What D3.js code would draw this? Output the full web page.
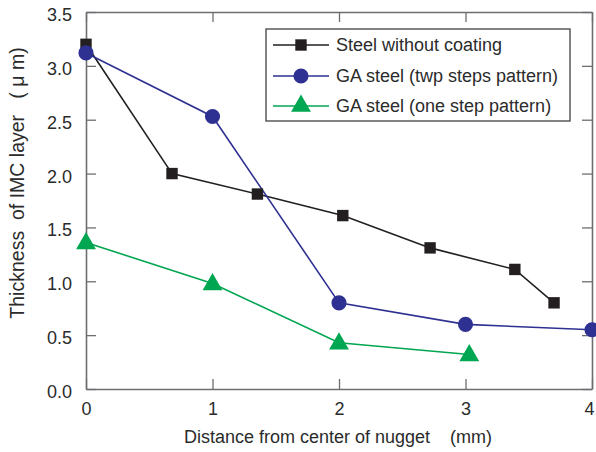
<!DOCTYPE html>
<html>
<head>
<meta charset="utf-8">
<script src="https://cdn.jsdelivr.net/npm/d3@7"></script>
<style>
  html, body { margin: 0; padding: 0; background: #fff; }
  svg { display: block; font-family: "Liberation Sans", Arial, sans-serif; }
  text { white-space: pre; }
</style>
</head>
<body>
<svg id="chart" width="596" height="452"></svg>
<script>
// Series values: distance from nugget centre (mm) vs IMC layer thickness (µm)
const steelX = [0, 0.68, 1.355, 2.03, 2.72, 3.39, 3.70];
const steelY = [3.20, 2.00, 1.81, 1.61, 1.31, 1.11, 0.80];

const twoStepX = [0, 1.0, 2.0, 3.0, 4.0];
const twoStepY = [3.12, 2.53, 0.80, 0.60, 0.55];

const oneStepX = [0, 1.0, 2.0, 3.03];
const oneStepY = [1.36, 0.98, 0.43, 0.32];

const seriesNames = [
  "Steel without coating",
  "GA steel (twp steps pattern)",
  "GA steel (one step pattern)"
];

const xTicks = [0, 1, 2, 3, 4];
const yTicks = [0, 0.5, 1.0, 1.5, 2.0, 2.5, 3.0, 3.5];

const xTitle = "Distance from center of nugget    (mm)";
const yTitle = "Thickness  of IMC layer   ( \u03bc m)";

const colors = ["#231f20", "#2e3192", "#00a651"];
const symbols = [d3.symbolSquare, d3.symbolCircle, d3.symbolTriangle];
const symbolSizes = [130, 180, 170];

const margin = { left: 86, right: 4, top: 12, bottom: 63 };
const W = 596, H = 452;
const svg = d3.select("#chart");

const x = d3.scaleLinear().domain([0, 4]).range([margin.left, W - margin.right]);
const y = d3.scaleLinear().domain([0, 3.5]).range([H - margin.bottom, margin.top]);

const frameColor = "#6d6e71";
const textColor = "#2b2b2b";
const fontSize = "18px";

// Axes: ticks point into the plot on all four sides
const axisBottom = d3.axisBottom(x).tickValues(xTicks).tickFormat(d3.format("d"))
  .tickSizeInner(-10).tickSizeOuter(0).tickPadding(13);
const axisLeft = d3.axisLeft(y).tickValues(yTicks).tickFormat(d3.format(".1f"))
  .tickSizeInner(-10).tickSizeOuter(0).tickPadding(14);
const axisTop = d3.axisTop(x).tickValues(xTicks).tickFormat("")
  .tickSizeInner(-10).tickSizeOuter(0);
const axisRight = d3.axisRight(y).tickValues(yTicks).tickFormat("")
  .tickSizeInner(-10).tickSizeOuter(0);

function styleAxis(g) {
  g.select(".domain").attr("stroke", frameColor).attr("stroke-width", 1.6);
  g.selectAll(".tick line").attr("stroke", frameColor).attr("stroke-width", 1.3);
  g.selectAll(".tick text").attr("fill", textColor)
    .style("font-size", fontSize).style("font-family", "Liberation Sans, Arial, sans-serif");
}

const gx = svg.append("g").attr("transform", `translate(0,${y(0)})`).call(axisBottom).call(styleAxis);
// keep the last label inside the window edge
gx.selectAll(".tick text").filter(d => d === 4).attr("dx", -3);

svg.append("g").attr("transform", `translate(${x(0)},0)`).call(axisLeft).call(styleAxis)
  .selectAll(".tick text").attr("dy", "0.47em");
svg.append("g").attr("transform", `translate(0,${y(3.5)})`).call(axisTop).call(styleAxis);
svg.append("g").attr("transform", `translate(${x(4)},0)`).call(axisRight).call(styleAxis);

// Axis titles
svg.append("text")
  .attr("x", (x(0) + x(4)) / 2 - 1)
  .attr("y", 443)
  .attr("text-anchor", "middle")
  .attr("fill", textColor)
  .style("font-size", fontSize)
  .text(xTitle);

svg.append("text")
  .attr("transform", `translate(24,${183}) rotate(-90)`)
  .attr("text-anchor", "middle")
  .attr("fill", textColor)
  .style("font-size", "19.5px")
  .text(yTitle);

// Series
const series = [
  { xs: steelX, ys: steelY },
  { xs: twoStepX, ys: twoStepY },
  { xs: oneStepX, ys: oneStepY }
].map((s, i) => ({
  name: seriesNames[i],
  color: colors[i],
  symbol: symbols[i],
  size: symbolSizes[i],
  points: s.xs.map((v, j) => ({ x: v, y: s.ys[j] }))
}));

const line = d3.line().x(d => x(d.x)).y(d => y(d.y));

const plot = svg.append("g");
series.forEach(s => {
  plot.append("path")
    .datum(s.points)
    .attr("d", line)
    .attr("fill", "none")
    .attr("stroke", s.color)
    .attr("stroke-width", 1.6);
});
series.forEach(s => {
  plot.selectAll(null)
    .data(s.points)
    .join("path")
    .attr("transform", d => `translate(${x(d.x)},${y(d.y) + (s.symbol === d3.symbolTriangle ? 1 : 0)})`)
    .attr("d", d3.symbol().type(s.symbol).size(s.size))
    .attr("fill", s.color);
});

// Legend
const legend = svg.append("g");
legend.append("rect")
  .attr("x", 266).attr("y", 29)
  .attr("width", 304).attr("height", 92)
  .attr("fill", "#fff")
  .attr("stroke", "#414042")
  .attr("stroke-width", 1.3);

const rowY = [45, 76, 106];
series.forEach((s, i) => {
  const g = legend.append("g").attr("transform", `translate(0,${rowY[i]})`);
  g.append("line")
    .attr("x1", 273).attr("x2", 329)
    .attr("y1", 0).attr("y2", 0)
    .attr("stroke", s.color).attr("stroke-width", 1.6);
  g.append("path")
    .attr("transform", "translate(301,0)")
    .attr("d", d3.symbol().type(s.symbol).size(s.size))
    .attr("fill", s.color);
  g.append("text")
    .attr("x", 336).attr("y", 0).attr("dy", "0.36em")
    .attr("fill", textColor)
    .style("font-size", fontSize)
    .text(s.name);
});
</script>
</body>
</html>
